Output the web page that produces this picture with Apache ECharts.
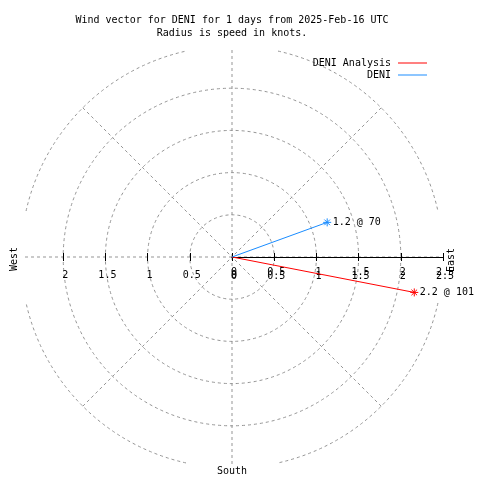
<!DOCTYPE html>
<html><head><meta charset="utf-8">
<script src="https://cdn.jsdelivr.net/npm/echarts@6/dist/echarts.min.js"></script>
<style>html,body{margin:0;padding:0;background:#fff}#c{width:480px;height:480px}</style>
</head><body><div id="c"></div>
<script>
// ---- data ----
const titleLines = ['Wind vector for DENI for 1 days from 2025-Feb-16 UTC', 'Radius is speed in knots.'];
const seriesNames = ['DENI Analysis', 'DENI'];
const speeds = [2.2, 1.2];        // knots
const directions = [101, 70];     // degrees, clockwise from north
const radiusMax = 2.5;
const radiusInterval = 0.5;
const leftAxisMax = 2;
const compassLabels = ['West', 'East', 'South'];

// ---- style / layout ----
const seriesColors = ['#ff0000', '#1a8cff'];
const CX = 232, CY = 257, R = 211;          // R = pixel radius of radiusMax
const CLIP = 207;                            // half size of the clipped plot square
const FONT = 'DejaVu Sans Mono';
const GRID = '#959595';
const dash = { type: [3, 3], color: GRID, width: 1 };
const ASTERISK = 'path://M0 5L10 5M5 0L5 10M1.5 1.5L8.5 8.5M8.5 1.5L1.5 8.5';
const pxPerUnit = R / radiusMax;

const hidden = { show: false };
function hiddenAngle(idx, start) {
  return { polarIndex: idx, type: 'value', startAngle: start, min: 0, max: 360, clockwise: true,
    axisLine: hidden, axisTick: hidden, axisLabel: hidden, splitLine: hidden, splitArea: hidden };
}
const labelStyle = { fontFamily: FONT, fontSize: 10, color: '#000', verticalAlign: 'middle', padding: [0, 0, 0, 4] };

const polar = [
  { center: [CX, CY], radius: pxPerUnit * leftAxisMax },   // 0 circles
  { center: [CX, CY], radius: R },                          // 1 diagonals + data
  { center: [CX, CY], radius: CLIP },                       // 2 cross lines
  { center: [CX, CY - 4], radius: R },                      // 3 right ticks + labels
  { center: [CX, CY], radius: R },                          // 4 right axis line + labels (2nd copy)
  { center: [CX, CY - 4], radius: pxPerUnit * leftAxisMax } // 5 left ticks + labels
];

const angleAxis = [
  hiddenAngle(0, 90),
  { polarIndex: 1, type: 'value', startAngle: 45, min: 45, max: 405, interval: 90, clockwise: true,
    axisLine: hidden, axisTick: hidden, axisLabel: hidden, splitLine: { show: true, lineStyle: dash } },
  { polarIndex: 2, type: 'value', startAngle: 90, min: 0, max: 360, interval: 90, clockwise: true,
    axisLine: hidden, axisTick: hidden, axisLabel: hidden, splitLine: { show: true, lineStyle: dash } },
  hiddenAngle(3, 0),
  hiddenAngle(4, 0),
  hiddenAngle(5, 180)
];

const radiusAxis = [
  { polarIndex: 0, type: 'value', min: 0, max: leftAxisMax, interval: radiusInterval,
    axisLine: hidden, axisTick: hidden, axisLabel: hidden, splitLine: { show: true, lineStyle: dash } },
  { polarIndex: 1, type: 'value', min: 0, max: radiusMax, axisLine: hidden, axisTick: hidden, axisLabel: hidden, splitLine: hidden },
  { polarIndex: 2, type: 'value', min: 0, max: radiusMax, axisLine: hidden, axisTick: hidden, axisLabel: hidden, splitLine: hidden },
  { polarIndex: 3, type: 'value', min: 0, max: radiusMax, interval: radiusInterval,
    axisLine: hidden, axisTick: { show: true, length: -8, lineStyle: { color: '#000', width: 1 } },
    axisLabel: Object.assign({ show: true, margin: -19 }, labelStyle), splitLine: hidden },
  { polarIndex: 4, type: 'value', min: 0, max: radiusMax, interval: radiusInterval,
    axisLine: { show: true, lineStyle: { color: '#000', width: 1 } }, axisTick: hidden,
    axisLabel: Object.assign({ show: true, margin: -19 }, labelStyle), splitLine: hidden },
  { polarIndex: 5, type: 'value', min: 0, max: leftAxisMax, interval: radiusInterval,
    axisLine: hidden, axisTick: { show: true, length: 8, lineStyle: { color: '#000', width: 1 } },
    axisLabel: Object.assign({ show: true, margin: 22 }, labelStyle), splitLine: hidden }
];

const series = seriesNames.map((name, i) => ({
  type: 'line', name: name, coordinateSystem: 'polar', polarIndex: 1,
  data: [
    { value: [0, directions[i]], symbol: 'none', label: { show: false } },
    { value: [speeds[i], directions[i]] }
  ],
  symbol: ASTERISK, symbolSize: 8, showSymbol: true,
  lineStyle: { color: seriesColors[i], width: 1 },
  itemStyle: { color: seriesColors[i], borderColor: seriesColors[i], borderWidth: 1 },
  label: { show: true, position: 'right', distance: 1, fontFamily: FONT, fontSize: 10, color: '#000',
    formatter: p => p.value[0] + ' @ ' + p.value[1] },
  emphasis: { disabled: true },
  z: 10, animation: false
}));

const legend = seriesNames.map((name, i) => ({
  data: [name], right: 53, top: 57 + i * 12, orient: 'horizontal', align: 'right',
  icon: 'rect', itemWidth: 29, itemHeight: 1, padding: 0, itemGap: 0,
  itemStyle: { color: seriesColors[i], borderWidth: 0 },
  textStyle: { fontFamily: FONT, fontSize: 10, color: '#000', lineHeight: 12, padding: [0, 2, 0, 0] },
  selectedMode: false
}));

// outer (2.5 kt) circle, clipped by the plot square: four arcs
const gapAngle = Math.asin(46 / R);
const arcs = [0, 1, 2, 3].map(q => ({
  type: 'arc', silent: true,
  shape: { cx: CX, cy: CY, r: R, startAngle: q * Math.PI / 2 + gapAngle, endAngle: (q + 1) * Math.PI / 2 - gapAngle, clockwise: true },
  style: { stroke: GRID, lineWidth: 1, lineDash: [3, 3], fill: null }
}));

const texts = [
  { type: 'text', x: CX, y: 20, style: { text: titleLines[0], font: '10px ' + FONT, fill: '#000', align: 'center', verticalAlign: 'middle' } },
  { type: 'text', x: CX, y: 33, style: { text: titleLines[1], font: '10px ' + FONT, fill: '#000', align: 'center', verticalAlign: 'middle' } },
  { type: 'text', x: 14, y: 259, rotation: Math.PI / 2, style: { text: compassLabels[0], font: '10px ' + FONT, fill: '#000', align: 'center', verticalAlign: 'middle' } },
  { type: 'text', x: 451, y: 260, rotation: Math.PI / 2, style: { text: compassLabels[1], font: '10px ' + FONT, fill: '#000', align: 'center', verticalAlign: 'middle' } },
  { type: 'text', x: CX, y: 471, style: { text: compassLabels[2], font: '10px ' + FONT, fill: '#000', align: 'center', verticalAlign: 'middle' } }
];

const chart = echarts.init(document.getElementById('c'), null, { renderer: 'canvas' });
chart.setOption({
  backgroundColor: '#fff',
  animation: false,
  polar: polar,
  angleAxis: angleAxis,
  radiusAxis: radiusAxis,
  legend: legend,
  series: series,
  graphic: arcs.concat(texts)
});
</script>
</body></html>
